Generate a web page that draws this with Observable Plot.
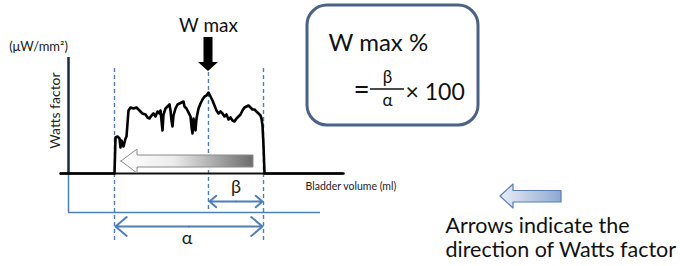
<!DOCTYPE html>
<html><head><meta charset="utf-8">
<script src="https://cdn.jsdelivr.net/npm/d3@7"></script>
<script src="https://cdn.jsdelivr.net/npm/@observablehq/plot@0.6"></script>
<style>body{margin:0;background:#fff} #chart svg{display:block}</style>
</head><body>
<svg width="0" height="0" style="position:absolute">
<defs>
<linearGradient id="gGrey" x1="0" x2="1" y1="0" y2="0">
<stop offset="0" stop-color="#ffffff"/><stop offset="0.4" stop-color="#ececec"/><stop offset="1" stop-color="#6c6c6c"/>
</linearGradient>
<linearGradient id="gBlue" x1="0" x2="1" y1="0" y2="0">
<stop offset="0" stop-color="#e8eef8"/><stop offset="1" stop-color="#8ea8d2"/>
</linearGradient>
</defs></svg>
<div id="chart"></div>
<script>
// Watts factor trace (bladder volume in arbitrary units, watts factor in arbitrary units)
const volume = [60,114,115,117,119,120,121,123,125,126,128,130,133,136,139,142,145,147,149,151,153,155,157,159,160,161,162,163,165,167,169,170,171,172,173,175,177,179,181,183,184,186,188,190,191,192,193,194,195,196,198,200,202,204,206,208,210,212,214,216,218,220,222,224,226,228,230,232,234,236,238,240,242,244,246,248,250,252,254,256,258,260,261,262,263,264,343];
const watts  = [0,0,36,37,35,26,33,27,35,37,63,66,65,66,63,60,59,56,55,58,60,57,62,60,63,53,43,59,65,67,69,63,53,47,58,65,69,70,71,72,67,65,61,57,47,40,55,49,43,55,65,70,74,77,78,81,77,73,68,63,60,62,60,57,59,54,56,53,52,55,57,59,63,66,67,68,66,64,64,62,60,58,55,48,28,0,0];

// Texts
const yLabel = "Watts factor";
const yUnit = "(μW/mm²)";
const xLabel = "Bladder volume (ml)";
const peakLabel = "W max";
const betaLabel = "β";
const alphaLabel = "α";
const formulaTitle = "W max %";
const formulaEq = "=";
const formulaTimes = "× 100";
const noteLines = ["Arrows indicate the", "direction of Watts factor"];

// Derived key volumes from the trace
const firstPos = watts.findIndex(w => w > 0);
let lastPos = watts.length - 1; while (watts[lastPos] <= 0) lastPos--;
const vStart = volume[firstPos - 1];
const vPeak = volume[d3.maxIndex(watts)];
const vEnd = volume[lastPos];

// layout helper: top-down pixel row -> watts units
const B = 173;
const Y = p => B - p;
const font = "Lato, 'Open Sans', sans-serif";
const blue = "#4f7fb7";

const trace = volume.map((v, i) => ({v, w: watts[i]}));

const greyArrow = [
  {x: vStart + 7, a: Y(161), b: Y(161)},
  {x: vStart + 23, a: Y(149), b: Y(173)},
  {x: vStart + 23, a: Y(155), b: Y(167)},
  {x: vEnd - 10, a: Y(155), b: Y(167)}
];
const downArrow = [
  {y: Y(37), a: vPeak - 4.5, b: vPeak + 4.5},
  {y: Y(62), a: vPeak - 4.5, b: vPeak + 4.5},
  {y: Y(62), a: vPeak - 10, b: vPeak + 10},
  {y: Y(71), a: vPeak, b: vPeak}
];
const blueArrow = [
  {x: 500, a: Y(196), b: Y(196)},
  {x: 513, a: Y(184), b: Y(208)},
  {x: 513, a: Y(190.5), b: Y(202)},
  {x: 561, a: Y(190.5), b: Y(202)}
];

const chart = Plot.plot({
  width: 680, height: 266,
  margin: 0,
  x: {domain: [0, 680], range: [0, 680], axis: null},
  y: {domain: [B - 266, B], range: [266, 0], axis: null},
  style: {background: "white", fontFamily: font},
  marks: [
    // formula box
    Plot.rect([{}], {x1: () => 307, x2: () => 478, y1: () => Y(5), y2: () => Y(125), rx: 20, ry: 20, fill: "white", stroke: "#4a6286", strokeWidth: 3}),
    // dashed guide lines
    Plot.ruleX([{x: vStart, a: Y(68), b: Y(240)}, {x: vPeak, a: Y(72), b: Y(212)}, {x: vEnd, a: Y(68), b: Y(240)}],
      {x: "x", y1: "a", y2: "b", stroke: blue, strokeWidth: 1.4, strokeDasharray: "4,3"}),
    // left blue bracket
    Plot.ruleX([{}], {x: () => 68, y1: () => Y(173), y2: () => Y(212), stroke: blue, strokeWidth: 1.5}),
    Plot.ruleY([{}], {y: () => Y(212), x1: () => 68, x2: () => 320, stroke: blue, strokeWidth: 1.5}),
    // y axis line
    Plot.ruleX([{}], {x: () => 68, y1: () => 0, y2: () => Y(57), stroke: "#1e2a40", strokeWidth: 2.5}),
    // baseline
    Plot.ruleY([0], {x1: 60, x2: 343, stroke: "#111", strokeWidth: 2}),
    // grey direction arrow
    Plot.areaY(greyArrow, {x: "x", y1: "a", y2: "b", fill: "url(#gGrey)", stroke: "#8a8a8a", strokeWidth: 1, curve: "linear"}),
    // trace
    Plot.line(trace, {x: "v", y: "w", stroke: "#000", strokeWidth: 2.6, strokeLinejoin: "round"}),
    // black down arrow for W max
    Plot.areaX(downArrow, {y: "y", x1: "a", x2: "b", fill: "#000", curve: "linear"}),
    // beta and alpha double arrows
    Plot.arrow([
      {x1: (vPeak + vEnd) / 2, x2: vPeak + 1, y: Y(201)},
      {x1: (vPeak + vEnd) / 2, x2: vEnd - 1, y: Y(201)},
      {x1: (vStart + vEnd) / 2, x2: vStart + 1, y: Y(226)},
      {x1: (vStart + vEnd) / 2, x2: vEnd - 1, y: Y(226)}
    ], {x1: "x1", x2: "x2", y1: "y", y2: "y", stroke: blue, strokeWidth: 2, headLength: 11, headAngle: 80}),
    // small legend arrow
    Plot.areaY(blueArrow, {x: "x", y1: "a", y2: "b", fill: "url(#gBlue)", stroke: "#5b7db3", strokeWidth: 1.2, curve: "linear"}),
    // texts
    Plot.text([peakLabel], {x: vPeak, y: Y(25), text: d => d, fontSize: 19, fill: "#111"}),
    Plot.text([yUnit], {x: 38, y: Y(46), text: d => d, fontSize: 13, fill: "#222"}),
    Plot.text([yLabel], {x: 55, y: Y(110), text: d => d, fontSize: 14, rotate: -90, fill: "#222"}),
    Plot.text([xLabel], {x: 305, y: Y(186), text: d => d, fontSize: 10.5, textAnchor: "start", fill: "#222"}),
    Plot.text([betaLabel], {x: (vPeak + vEnd) / 2, y: Y(187), text: d => d, fontSize: 18, fill: "#222"}),
    Plot.text([alphaLabel], {x: (vStart + vEnd) / 2 - 2, y: Y(238), text: d => d, fontSize: 18, fill: "#222"}),
    Plot.text([formulaTitle], {x: 328, y: Y(43), text: d => d, fontSize: 24, textAnchor: "start", fill: "#111"}),
    Plot.text([formulaEq], {x: 361, y: Y(90), text: d => d, fontSize: 28, fill: "#111"}),
    Plot.ruleY([{}], {y: () => Y(88.5), x1: () => 370, x2: () => 404, stroke: "#111", strokeWidth: 1.3}),
    Plot.text([betaLabel], {x: 387, y: Y(77), text: d => d, fontSize: 17, fill: "#111"}),
    Plot.text([alphaLabel], {x: 387, y: Y(100), text: d => d, fontSize: 17, fill: "#111"}),
    Plot.text([formulaTimes], {x: 405, y: Y(92), text: d => d, fontSize: 23, textAnchor: "start", fill: "#111"}),
    Plot.text(noteLines, {x: 445, y: (d, i) => Y(226 + i * 24), text: d => d, fontSize: 21.5, textAnchor: "start", fill: "#111"})
  ]
});
document.getElementById("chart").appendChild(chart);
</script>
</body></html>
